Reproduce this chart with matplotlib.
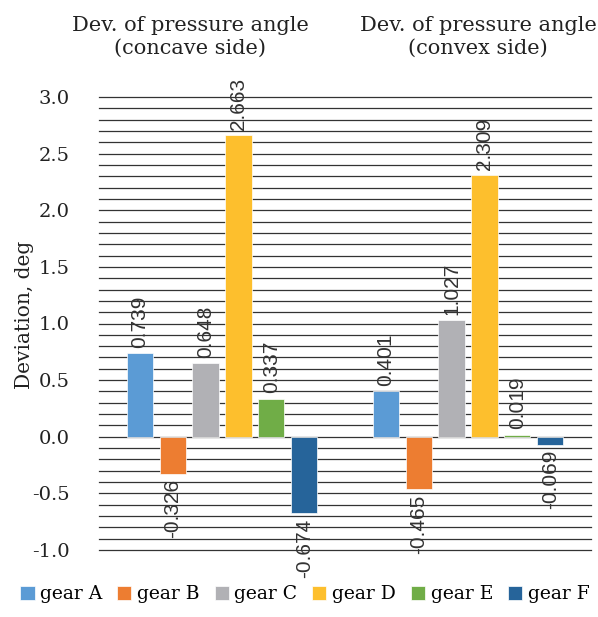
import numpy as np
import matplotlib.pyplot as plt

# data
categories = ['Dev. of pressure angle\n(concave side)', 'Dev. of pressure angle\n(convex side)']
gears = ['gear A', 'gear B', 'gear C', 'gear D', 'gear E', 'gear F']
values = {
    'gear A': [0.739, 0.401],
    'gear B': [-0.326, -0.465],
    'gear C': [0.648, 1.027],
    'gear D': [2.663, 2.309],
    'gear E': [0.337, 0.019],
    'gear F': [-0.674, -0.069],
}
colors = ['#5B9BD5', '#ED7D31', '#B1B1B5', '#FDBF2D', '#70AD47', '#26649A']
yticks = [-1.0, -0.5, 0.0, 0.5, 1.0, 1.5, 2.0, 2.5, 3.0]

serif = 'DejaVu Serif'
sans = 'Liberation Sans'

fig = plt.figure(figsize=(5.98, 6.17), dpi=100)
ax = fig.add_axes([99 / 598, 1 - 550 / 617, 492 / 598, 453 / 617])

x = np.arange(len(categories))
step = 0.134
width = 0.106
for i, g in enumerate(gears):
    pos = x + (i - 2.5) * step
    bars = ax.bar(pos, values[g], width, color=colors[i], edgecolor='white',
                  linewidth=0.5, zorder=3, label=g)
    for b, v in zip(bars, values[g]):
        off = 4 if v >= 0 else -4
        ax.annotate(f'{v:.3f}', (b.get_x() + b.get_width() / 2, v),
                    xytext=(0, off), textcoords='offset points',
                    rotation=90, ha='center', va='bottom' if v >= 0 else 'top',
                    fontsize=15, family=sans, color='#333333')

ax.set_ylim(-1.0, 3.0)
ax.set_xlim(-0.5, 1.5)
grid = np.round(np.arange(-1.0, 3.01, 0.1), 1) + 0.0
ax.set_yticks(grid)
ax.set_yticklabels([f'{t:.1f}' if np.isclose(t, yticks).any() else '' for t in grid],
                   family=serif, fontsize=14, color='#222222')
ax.yaxis.grid(True, color='#333333', linewidth=0.9, zorder=0)
for gl in ax.get_ygridlines():
    gl.set_clip_on(False)
ax.tick_params(axis='y', length=0, pad=21)
ax.set_xticks([])
for s in ax.spines.values():
    s.set_visible(False)

# category titles sit above the clusters
fig.text(190 / 598, 1 - 37 / 617, categories[0], ha='center', va='center', multialignment='center',
         family=serif, fontsize=15, color='#222222', linespacing=1.3)
fig.text(478 / 598, 1 - 37 / 617, categories[1], ha='center', va='center', multialignment='center',
         family=serif, fontsize=15, color='#222222', linespacing=1.3)

ax.set_ylabel('Deviation, deg', family=serif, fontsize=14.5, color='#222222')
ax.yaxis.set_label_coords(-0.132, 0.52)

fig.legend(loc='lower center', bbox_to_anchor=(0.51, -0.005), ncol=6, frameon=False,
           handlelength=0.75, handleheight=0.75, handletextpad=0.3, columnspacing=0.8,
           prop={'family': serif, 'size': 13.5})

fig.savefig('out.png', dpi=100)
